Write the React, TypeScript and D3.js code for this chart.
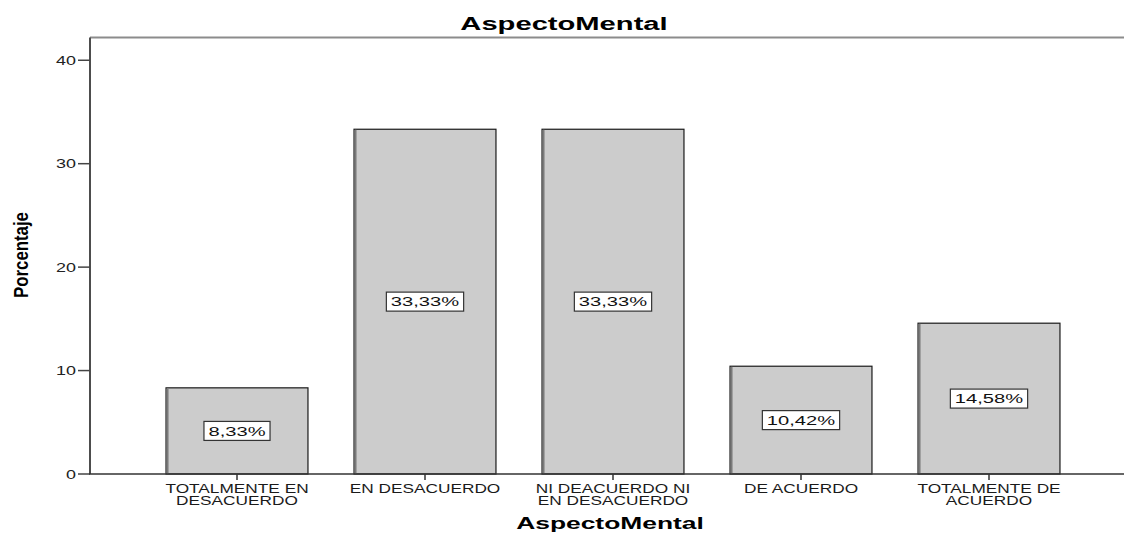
import React, { useEffect, useRef } from 'react';
import * as d3 from 'd3';

// Response categories and share of answers (percent)
const categories = [
  'TOTALMENTE EN DESACUERDO',
  'EN DESACUERDO',
  'NI DEACUERDO NI EN DESACUERDO',
  'DE ACUERDO',
  'TOTALMENTE DE ACUERDO',
];
const percentages = [8.33, 33.33, 33.33, 10.42, 14.58];
const yTicks = [0, 10, 20, 30, 40];
const chartTitle = 'AspectoMental';
const xTitle = 'AspectoMental';
const yTitle = 'Porcentaje';

const W = 1124;
const H = 533;
const FONT = '"Liberation Sans", Arial, Helvetica, sans-serif';

// Greedy word wrap for the category labels
function wrap(label: string, max: number): string[] {
  const words = label.split(' ');
  const lines: string[] = [];
  let cur = '';
  for (const w of words) {
    const next = cur ? cur + ' ' + w : w;
    if (next.length > max && cur) {
      lines.push(cur);
      cur = w;
    } else {
      cur = next;
    }
  }
  if (cur) lines.push(cur);
  return lines;
}

const fmt = (v: number) => v.toFixed(2).replace('.', ',') + '%';

export default function App() {
  const ref = useRef<SVGSVGElement>(null);

  useEffect(() => {
    const svg = d3.select(ref.current);
    svg.selectAll('*').remove();

    const plotLeft = 90;
    const plotRight = 1132;
    const x = d3
      .scaleBand<string>()
      .domain(categories)
      .range([143, 1083])
      .paddingInner(0.245)
      .paddingOuter(0.1225);
    const y = d3.scaleLinear().domain([0, 42.2]).range([474, 37.5]);
    const bw = x.bandwidth();

    // Horizontally stretched text helper
    const stext = (
      parent: d3.Selection<any, unknown, null, undefined>,
      tx: number,
      ty: number,
      str: string,
      opts: { size: number; weight?: string; sx: number; anchor?: string; rotate?: number; fill?: string }
    ) => {
      const t = parent
        .append('text')
        .attr('transform', `translate(${tx},${ty})${opts.rotate ? ` rotate(${opts.rotate})` : ''} scale(${opts.sx},1)`)
        .attr('text-anchor', opts.anchor ?? 'middle')
        .attr('font-family', FONT)
        .attr('font-size', opts.size)
        .attr('font-weight', opts.weight ?? 'normal')
        .attr('fill', opts.fill ?? '#1a1a1a')
        .text(str);
      return t;
    };

    // Top frame line
    svg
      .append('line')
      .attr('x1', plotLeft)
      .attr('x2', plotRight)
      .attr('y1', y(42.2))
      .attr('y2', y(42.2))
      .attr('stroke', '#8c8c8c')
      .attr('stroke-width', 2);

    // Bars
    const bars = svg.append('g');
    categories.forEach((c, i) => {
      const v = percentages[i];
      const x0 = x(c)!;
      bars
        .append('rect')
        .attr('x', x0)
        .attr('y', y(v))
        .attr('width', bw)
        .attr('height', y(0) - y(v))
        .attr('fill', '#cccccc')
        .attr('stroke', '#1a1a1a')
        .attr('stroke-width', 1.2);
      bars
        .append('line')
        .attr('x1', x0 + 1.5)
        .attr('x2', x0 + 1.5)
        .attr('y1', y(v) + 0.6)
        .attr('y2', y(0))
        .attr('stroke', '#7a7a7a')
        .attr('stroke-width', 2);
    });

    // Value labels in boxes at half bar height
    categories.forEach((c, i) => {
      const v = percentages[i];
      const cx = x(c)! + bw / 2;
      const cy = y(v / 2);
      const g = svg.append('g');
      const rect = g.append('rect');
      const sx = 1.55;
      const t = stext(g, cx, cy + 4.8, fmt(v), { size: 13, sx, fill: '#111' });
      const w = (t.node() as SVGTextElement).getComputedTextLength() * sx + 9;
      rect
        .attr('x', cx - w / 2)
        .attr('y', cy - 9.5)
        .attr('width', w)
        .attr('height', 19)
        .attr('fill', '#ffffff')
        .attr('stroke', '#333')
        .attr('stroke-width', 1.2);
    });

    // Left axis
    svg
      .append('line')
      .attr('x1', plotLeft)
      .attr('x2', plotLeft)
      .attr('y1', y(42.2))
      .attr('y2', y(0))
      .attr('stroke', '#4d4d4d')
      .attr('stroke-width', 2);

    yTicks.forEach((t) => {
      svg
        .append('line')
        .attr('x1', 78)
        .attr('x2', plotLeft)
        .attr('y1', y(t))
        .attr('y2', y(t))
        .attr('stroke', '#444')
        .attr('stroke-width', 1.5);
      stext(svg, 76, y(t) + 4.6, String(t), { size: 13, sx: 1.38, anchor: 'end', fill: '#222' });
    });

    // Baseline
    svg
      .append('line')
      .attr('x1', plotLeft - 1)
      .attr('x2', plotRight)
      .attr('y1', y(0))
      .attr('y2', y(0))
      .attr('stroke', '#333')
      .attr('stroke-width', 1.5);

    // Category ticks and labels
    categories.forEach((c) => {
      const cx = x(c)! + bw / 2;
      svg
        .append('line')
        .attr('x1', cx)
        .attr('x2', cx)
        .attr('y1', y(0))
        .attr('y2', y(0) + 6)
        .attr('stroke', '#333')
        .attr('stroke-width', 1.5);
      wrap(c, 15).forEach((line, li) => {
        stext(svg, cx, 493 + li * 12, line, { size: 12, sx: 1.44, fill: '#1a1a1a' });
      });
    });

    // Titles
    stext(svg, 564, 30, chartTitle, { size: 18, weight: 'bold', sx: 1.62, fill: '#000' });
    stext(svg, 610, 529, xTitle, { size: 16, weight: 'bold', sx: 1.65, fill: '#000' });
    stext(svg, 28, 255, yTitle, { size: 21, weight: 'bold', sx: 0.8, rotate: -90, fill: '#000' });
  }, []);

  return (
    <svg
      ref={ref}
      width={W}
      height={H}
      style={{ position: 'absolute', left: 0, top: 0, background: '#ffffff', display: 'block' }}
    />
  );
}
